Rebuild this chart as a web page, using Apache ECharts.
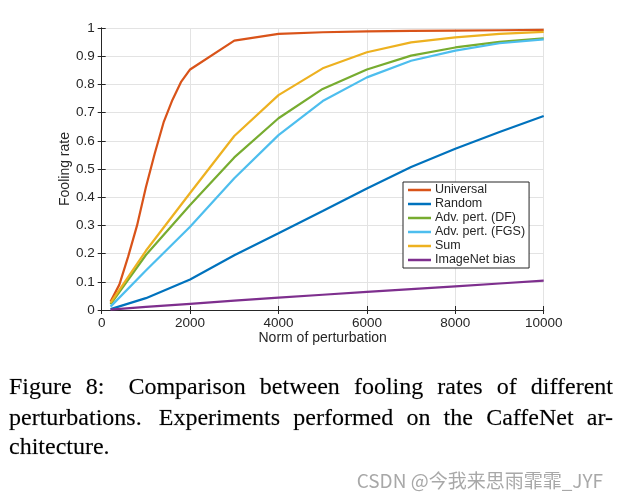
<!DOCTYPE html>
<html>
<head>
<meta charset="utf-8">
<script src="https://cdn.jsdelivr.net/npm/echarts@6/dist/echarts.min.js"></script>
<style>
html,body{margin:0;padding:0;background:#fff;}
#c{width:621px;height:498px;}
</style>
</head>
<body>
<div id="c"></div>
<script>
// ---- data ----
const seriesNames = ['Universal', 'Random', 'Adv. pert. (DF)', 'Adv. pert. (FGS)', 'Sum', 'ImageNet bias'];
const xUniversal = [200, 400, 600, 800, 1000, 1200, 1400, 1600, 1800, 2000, 3000, 4000, 5000, 6000, 7000, 8000, 9000, 10000];
const yUniversal = [0.03, 0.09, 0.19, 0.30, 0.435, 0.555, 0.665, 0.745, 0.81, 0.853, 0.955, 0.979, 0.985, 0.988, 0.99, 0.991, 0.992, 0.993];
const xOther = [200, 1000, 2000, 3000, 4000, 5000, 6000, 7000, 8000, 9000, 10000];
const yRandom = [0.003, 0.042, 0.108, 0.194, 0.272, 0.351, 0.431, 0.507, 0.572, 0.631, 0.688];
const yDF = [0.02, 0.195, 0.372, 0.541, 0.68, 0.784, 0.853, 0.902, 0.931, 0.951, 0.963];
const yFGS = [0.012, 0.14, 0.295, 0.467, 0.62, 0.741, 0.825, 0.884, 0.92, 0.946, 0.96];
const ySum = [0.025, 0.21, 0.415, 0.617, 0.762, 0.857, 0.914, 0.949, 0.967, 0.979, 0.986];
const yBias = [0.001, 0.011, 0.022, 0.033, 0.044, 0.054, 0.064, 0.074, 0.084, 0.094, 0.104];
const colors = ['#D95319', '#0072BD', '#77AC30', '#4DBEEE', '#EDB120', '#7E2F8E'];
const captionLines = [
  ['Figure', '8:', 'Comparison', 'between', 'fooling', 'rates', 'of', 'different'],
  ['perturbations.', 'Experiments', 'performed', 'on', 'the', 'CaffeNet', 'ar-'],
  ['chitecture.']
];
const watermark = 'CSDN @今我来思雨霏霏_JYF';

// ---- build ----
const zip = (xs, ys) => xs.map((x, i) => [x, ys[i]]);
const seriesData = [
  zip(xUniversal, yUniversal),
  zip(xOther, yRandom),
  zip(xOther, yDF),
  zip(xOther, yFGS),
  zip(xOther, ySum),
  zip(xOther, yBias)
];

const sans = "'Liberation Sans', Arial, Helvetica, sans-serif";
const serifFont = "24px 'Liberation Serif'";
const axisColor = '#262626';

// caption justification
const ctx = document.createElement('canvas').getContext('2d');
ctx.font = serifFont;
const capLeft = 9, capRight = 613;
const capY = [388, 419, 448];
const graphics = [];
captionLines.forEach((words, li) => {
  const justify = li < captionLines.length - 1;
  const widths = words.map(w => ctx.measureText(w).width);
  const total = widths.reduce((a, b) => a + b, 0);
  const weights = words.slice(0, -1).map((w, i) => (li === 0 && i === 1) ? 1.7 : (/\.$/.test(w) ? 1.3 : 1));
  const wsum = weights.reduce((a, b) => a + b, 0);
  const spaceUnit = justify ? (capRight - capLeft - total) / wsum : ctx.measureText(' ').width;
  let x = capLeft;
  words.forEach((w, i) => {
    graphics.push({
      type: 'text', x: x, y: capY[li],
      style: { text: w, x: 0, y: 0, font: serifFont, fill: '#000', stroke: 'rgba(0,0,0,0.35)', lineWidth: 0.4, verticalAlign: 'middle', textVerticalAlign: 'middle' }
    });
    x += widths[i] + (i < weights.length ? spaceUnit * weights[i] : 0);
  });
});
graphics.push({
  type: 'text', x: 603, y: 481,
  style: { text: watermark, font: "19px 'Noto Sans CJK SC', 'Noto Sans', sans-serif", fill: '#a8a8a8', align: 'right', textAlign: 'right', verticalAlign: 'middle', textVerticalAlign: 'middle' }
});

const chart = echarts.init(document.getElementById('c'), null, { renderer: 'canvas' });
chart.setOption({
  animation: false,
  backgroundColor: '#fff',
  grid: { left: 101.7, right: 77.3, top: 28, bottom: 188, containLabel: false },
  legend: {
    orient: 'vertical',
    left: 403, top: 182,
    data: seriesNames,
    icon: 'rect',
    itemWidth: 23, itemHeight: 2.5,
    itemGap: 0,
    padding: [1, 4, 1, 5],
    borderColor: axisColor, borderWidth: 1,
    backgroundColor: '#fff',
    textStyle: { fontFamily: sans, fontSize: 12.5, color: '#262626', lineHeight: 14, padding: [0, 0, 0, -1] }
  },
  xAxis: [{
    type: 'value', min: 0, max: 10000, interval: 2000,
    name: 'Norm of perturbation', nameLocation: 'middle', nameGap: 21, nameMoveOverlap: false,
    nameTextStyle: { fontFamily: sans, fontSize: 14, color: '#262626' },
    axisLine: { show: true, lineStyle: { color: axisColor, width: 1 } },
    axisTick: { show: true, inside: true, length: 4, lineStyle: { color: axisColor } },
    axisLabel: { fontFamily: sans, fontSize: 13.5, color: '#262626', margin: 6, formatter: v => String(Math.round(v)) },
    splitLine: { show: true, lineStyle: { color: '#e3e3e3', width: 1 } }
  }, {
    type: 'value', min: 0, max: 10000, interval: 2000, position: 'top',
    axisLine: { show: true, lineStyle: { color: axisColor, width: 1 } },
    axisTick: { show: true, inside: true, length: 4, lineStyle: { color: axisColor } },
    axisLabel: { show: false }, splitLine: { show: false }
  }],
  yAxis: [{
    type: 'value', min: 0, max: 1, interval: 0.1,
    name: 'Fooling rate', nameLocation: 'middle', nameGap: 30, nameRotate: 90, nameMoveOverlap: false,
    nameTextStyle: { fontFamily: sans, fontSize: 14, color: '#262626' },
    axisLine: { show: true, lineStyle: { color: axisColor, width: 1 } },
    axisTick: { show: true, inside: true, length: 4, lineStyle: { color: axisColor } },
    axisLabel: { fontFamily: sans, fontSize: 13.5, color: '#262626', margin: 7, formatter: v => String(Math.round(v * 10) / 10) },
    splitLine: { show: true, lineStyle: { color: '#e3e3e3', width: 1 } }
  }, {
    type: 'value', min: 0, max: 1, interval: 0.1, position: 'right',
    axisLine: { show: true, lineStyle: { color: axisColor, width: 1 } },
    axisTick: { show: true, inside: true, length: 4, lineStyle: { color: axisColor } },
    axisLabel: { show: false }, splitLine: { show: false }
  }],
  series: seriesNames.map((n, i) => ({
    name: n, type: 'line', data: seriesData[i],
    xAxisIndex: 0, yAxisIndex: 0,
    showSymbol: false, symbol: 'none',
    lineStyle: { color: colors[i], width: 2.2 },
    itemStyle: { color: colors[i] },
    z: 2
  })),
  graphic: graphics
});
</script>
</body>
</html>
